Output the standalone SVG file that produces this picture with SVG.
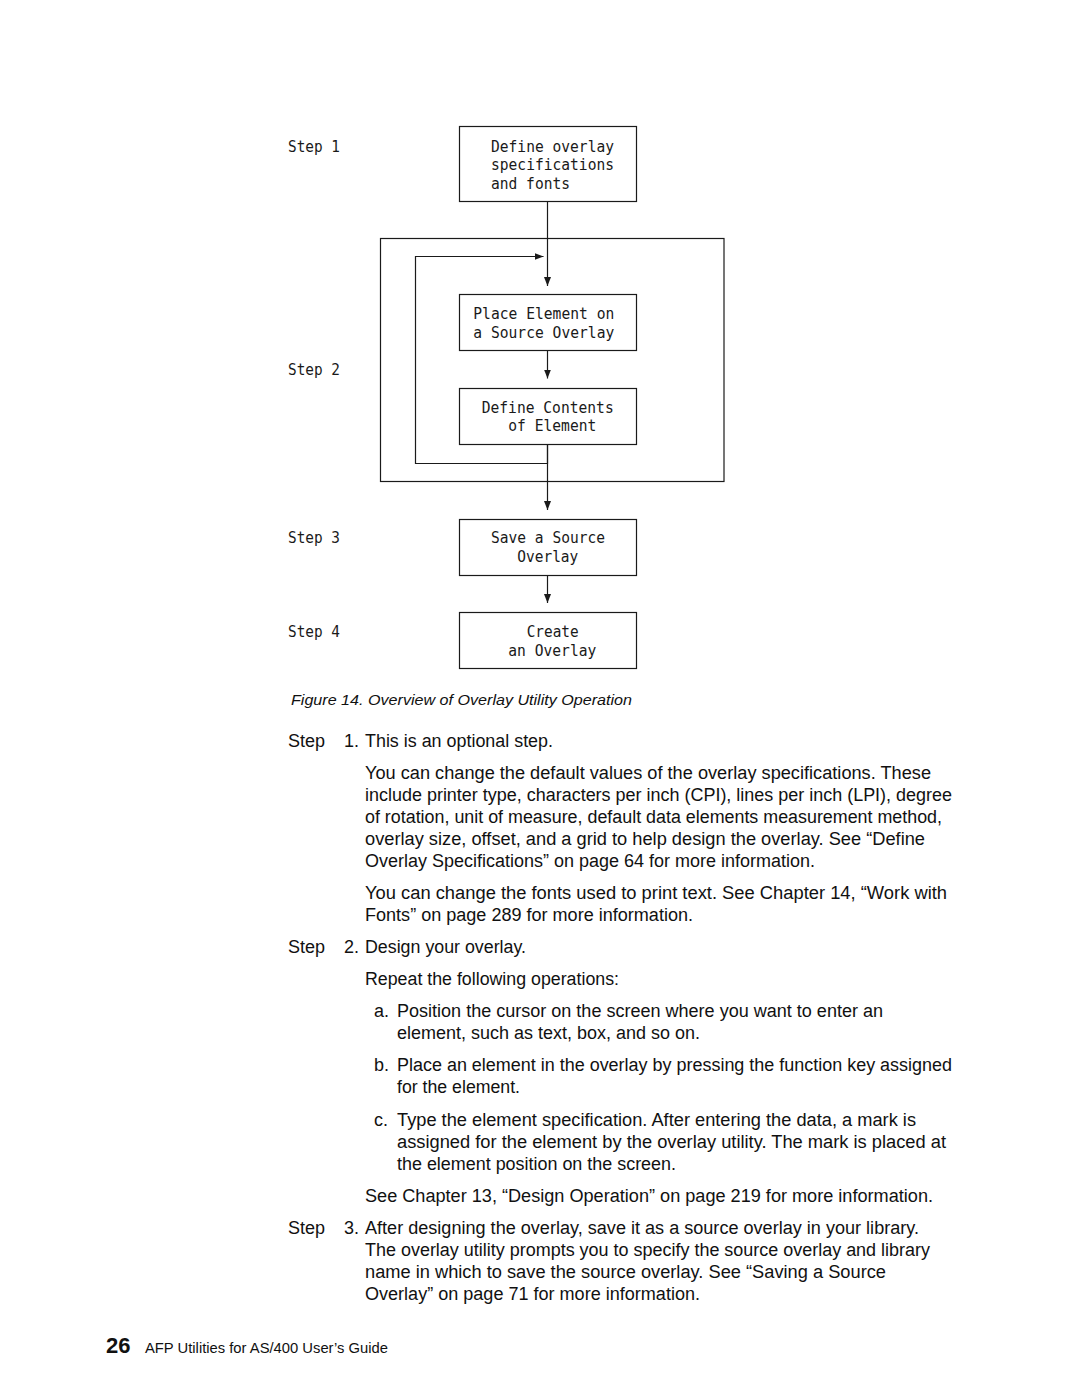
<svg xmlns="http://www.w3.org/2000/svg" width="1080" height="1397" viewBox="0 0 1080 1397">
<style>
.bg{fill:#ffffff}
.box{fill:#ffffff;stroke:#1a1a1a;stroke-width:1.2}
.frame{fill:none;stroke:#1a1a1a;stroke-width:1.2}
.conn{fill:none;stroke:#1a1a1a;stroke-width:1.2}
.mono{font-family:"DejaVu Sans Mono","Liberation Mono",monospace;font-size:15.5px;fill:#1a1a1a}
.body{font-family:"Liberation Sans",Arial,sans-serif;font-size:18px;fill:#111}
.cap{font-family:"Liberation Sans",Arial,sans-serif;font-size:15.5px;font-style:italic;fill:#111}
.foot{font-family:"Liberation Sans",Arial,sans-serif;font-size:14.5px;fill:#111}
.pnum{font-family:"Liberation Sans",Arial,sans-serif;font-size:22px;font-weight:bold;fill:#111}
</style>
<defs>
<marker id="ah" markerUnits="userSpaceOnUse" markerWidth="9" markerHeight="8" refX="9" refY="4" orient="auto">
<path d="M0,0.5 L9,4 L0,7.5 Z" fill="#1a1a1a"/>
</marker>
</defs>
<rect class="bg" x="0" y="0" width="1080" height="1397"/>

<g id="step2-frame">
<rect class="frame" x="380.5" y="238.5" width="343.5" height="243"/>
</g>

<g id="step-labels" class="mono">
<text x="288" y="151.5" textLength="52" lengthAdjust="spacingAndGlyphs">Step 1</text>
<text x="288" y="375" textLength="52" lengthAdjust="spacingAndGlyphs">Step 2</text>
<text x="288" y="543.3" textLength="52" lengthAdjust="spacingAndGlyphs">Step 3</text>
<text x="288" y="636.7" textLength="52" lengthAdjust="spacingAndGlyphs">Step 4</text>
</g>

<g id="connectors">
<path class="conn" d="M547.5,201 V286" marker-end="url(#ah)"/>
<path class="conn" d="M547.5,350 V378.5" marker-end="url(#ah)"/>
<path class="conn" d="M547.5,444 V463.5 H415.5 V256.5 H543.5" marker-end="url(#ah)"/>
<path class="conn" d="M547.5,444 V510" marker-end="url(#ah)"/>
<path class="conn" d="M547.5,575 V603" marker-end="url(#ah)"/>
</g>

<g id="node-define-spec">
<rect class="box" x="459.5" y="126.5" width="177" height="75"/>
<text class="mono" x="491" y="151.5" textLength="123" lengthAdjust="spacingAndGlyphs">Define overlay</text>
<text class="mono" x="491" y="170" textLength="123" lengthAdjust="spacingAndGlyphs">specifications</text>
<text class="mono" x="491" y="188.5" textLength="79" lengthAdjust="spacingAndGlyphs">and fonts</text>
</g>

<g id="node-place-element">
<rect class="box" x="459.5" y="294.5" width="177" height="56"/>
<text class="mono" x="473.3" y="319.3" textLength="141" lengthAdjust="spacingAndGlyphs">Place Element on</text>
<text class="mono" x="473.3" y="338.3" textLength="141" lengthAdjust="spacingAndGlyphs">a Source Overlay</text>
</g>

<g id="node-define-contents">
<rect class="box" x="459.5" y="388.5" width="177" height="56"/>
<text class="mono" x="481.7" y="412.7" textLength="132" lengthAdjust="spacingAndGlyphs">Define Contents</text>
<text class="mono" x="508.3" y="430.7" textLength="88" lengthAdjust="spacingAndGlyphs">of Element</text>
</g>

<g id="node-save">
<rect class="box" x="459.5" y="519.5" width="177" height="56"/>
<text class="mono" x="491" y="543.3" textLength="114" lengthAdjust="spacingAndGlyphs">Save a Source</text>
<text class="mono" x="517.3" y="561.7" textLength="61" lengthAdjust="spacingAndGlyphs">Overlay</text>
</g>

<g id="node-create">
<rect class="box" x="459.5" y="612.5" width="177" height="56"/>
<text class="mono" x="526.7" y="636.7" textLength="52" lengthAdjust="spacingAndGlyphs">Create</text>
<text class="mono" x="508.3" y="655.7" textLength="88" lengthAdjust="spacingAndGlyphs">an Overlay</text>
</g>

<g id="caption" xml:space="preserve">
<text class="cap" x="291" y="705" textLength="341" lengthAdjust="spacingAndGlyphs">Figure  14.  Overview of Overlay Utility Operation</text>
</g>

<g id="body-text" class="body" xml:space="preserve">
<text x="288" y="746.7">Step</text>
<text x="344" y="746.7">1.</text>
<text x="365" y="746.7" textLength="188" lengthAdjust="spacingAndGlyphs">This is an optional step.</text>
<text x="365" y="778.7" textLength="566" lengthAdjust="spacingAndGlyphs">You can change the default values of the overlay specifications.  These</text>
<text x="365" y="800.7" textLength="587" lengthAdjust="spacingAndGlyphs">include printer type, characters per inch (CPI), lines per inch (LPI), degree</text>
<text x="365" y="822.7" textLength="577" lengthAdjust="spacingAndGlyphs">of rotation, unit of measure, default data elements measurement method,</text>
<text x="365" y="844.7" textLength="560" lengthAdjust="spacingAndGlyphs">overlay size, offset, and a grid to help design the overlay.  See “Define</text>
<text x="365" y="866.7" textLength="450" lengthAdjust="spacingAndGlyphs">Overlay Specifications” on page  64 for more information.</text>
<text x="365" y="899" textLength="582" lengthAdjust="spacingAndGlyphs">You can change the fonts used to print text.  See Chapter  14, “Work with</text>
<text x="365" y="921" textLength="328" lengthAdjust="spacingAndGlyphs">Fonts” on page  289 for more information.</text>
<text x="288" y="953">Step</text>
<text x="344" y="953">2.</text>
<text x="365" y="953" textLength="161" lengthAdjust="spacingAndGlyphs">Design your overlay.</text>
<text x="365" y="985" textLength="254" lengthAdjust="spacingAndGlyphs">Repeat the following operations:</text>
<text x="374" y="1017">a.</text>
<text x="397" y="1017" textLength="486" lengthAdjust="spacingAndGlyphs">Position the cursor on the screen where you want to enter an</text>
<text x="397" y="1039" textLength="303" lengthAdjust="spacingAndGlyphs">element, such as text, box, and so on.</text>
<text x="374" y="1071">b.</text>
<text x="397" y="1071" textLength="555" lengthAdjust="spacingAndGlyphs">Place an element in the overlay by pressing the function key assigned</text>
<text x="397" y="1093" textLength="123" lengthAdjust="spacingAndGlyphs">for the element.</text>
<text x="374" y="1126">c.</text>
<text x="397" y="1126" textLength="519" lengthAdjust="spacingAndGlyphs">Type the element specification.  After entering the data, a mark is</text>
<text x="397" y="1148" textLength="549" lengthAdjust="spacingAndGlyphs">assigned for the element by the overlay utility.  The mark is placed at</text>
<text x="397" y="1170" textLength="279" lengthAdjust="spacingAndGlyphs">the element position on the screen.</text>
<text x="365" y="1202" textLength="568" lengthAdjust="spacingAndGlyphs">See Chapter  13, “Design Operation” on page  219 for more information.</text>
<text x="288" y="1234">Step</text>
<text x="344" y="1234">3.</text>
<text x="365" y="1234" textLength="554" lengthAdjust="spacingAndGlyphs">After designing the overlay, save it as a source overlay in your library.</text>
<text x="365" y="1256" textLength="565" lengthAdjust="spacingAndGlyphs">The overlay utility prompts you to specify the source overlay and library</text>
<text x="365" y="1278" textLength="521" lengthAdjust="spacingAndGlyphs">name in which to save the source overlay.  See “Saving a Source</text>
<text x="365" y="1300" textLength="335" lengthAdjust="spacingAndGlyphs">Overlay” on page  71 for more information.</text>
</g>

<g id="footer">
<text class="pnum" x="106" y="1353">26</text>
<text class="foot" x="145" y="1352.5" textLength="243" lengthAdjust="spacingAndGlyphs">AFP Utilities for AS/400 User’s Guide</text>
</g>
</svg>
